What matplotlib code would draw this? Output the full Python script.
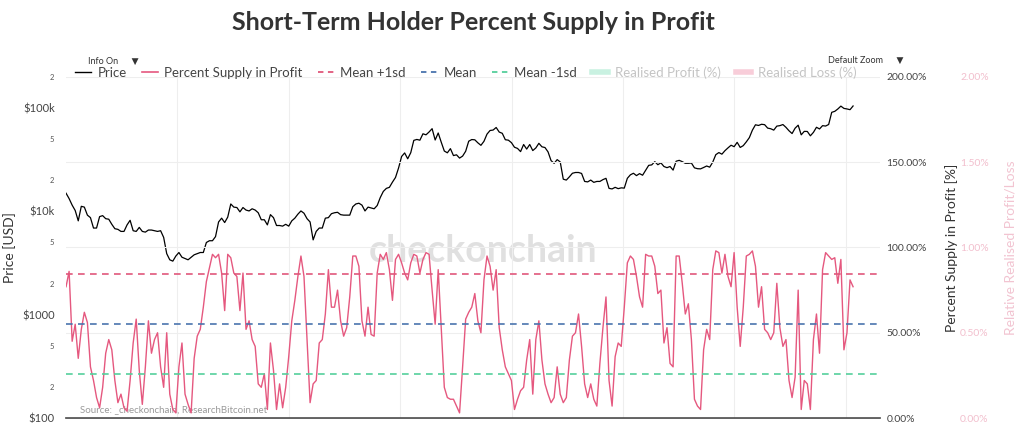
import matplotlib
matplotlib.use("Agg")
import matplotlib.pyplot as plt
import pandas as pd
from matplotlib.lines import Line2D
from matplotlib.ticker import FixedLocator, FixedFormatter

plt.rcParams["font.family"] = ["Lato", "DejaVu Sans"]

# 10-day samples from 2018-01-01
sth_profit = [
    77, 86, 45, 55, 35, 52, 62, 56, 30, 22,
    12, 6, 18, 38, 46, 40, 22, 9, 14, 6,
    4, 22, 44, 58, 28, 8, 30, 57, 38, 46,
    50, 30, 18, 50, 14, 5, 3, 30, 44, 14,
    8, 3, 35, 48, 52, 65, 80, 88, 96, 94,
    96, 85, 63, 96, 94, 85, 83, 63, 85, 52,
    57, 46, 42, 20, 18, 26, 5, 44, 28, 5,
    20, 6, 18, 36, 57, 69, 83, 95, 83, 46,
    9, 20, 22, 44, 46, 61, 87, 65, 65, 75,
    57, 48, 53, 71, 95, 95, 89, 57, 48, 65,
    49, 48, 85, 96, 93, 97, 87, 69, 93, 96,
    91, 85, 81, 91, 96, 95, 85, 93, 97, 96,
    75, 55, 87, 52, 18, 12, 11, 11, 7, 3,
    30, 58, 62, 65, 73, 57, 50, 81, 95, 89,
    75, 87, 53, 40, 30, 26, 22, 5, 11, 16,
    18, 34, 46, 14, 46, 57, 34, 20, 14, 9,
    12, 30, 14, 9, 12, 34, 48, 50, 61, 42,
    20, 12, 20, 11, 7, 32, 53, 71, 22, 7,
    36, 44, 42, 65, 91, 95, 93, 83, 71, 65,
    96, 95, 95, 89, 73, 75, 44, 53, 32, 30,
    95, 95, 79, 61, 67, 46, 11, 7, 5, 40,
    52, 46, 87, 98, 97, 85, 96, 83, 77, 97,
    65, 42, 65, 95, 96, 98, 89, 65, 77, 52,
    50, 46, 50, 79, 53, 42, 46, 22, 12, 24,
    75, 5, 22, 20, 5, 46, 61, 38, 87, 97,
    95, 93, 94, 79, 93, 40, 50, 81, 77,
]

price = [
    15000, 13300, 11500, 10200, 8100, 11200, 11000, 9200, 8700, 6900,
    6900, 8900, 9100, 8500, 8400, 7500, 6800, 6700, 6400, 6400,
    7400, 8200, 6500, 6400, 7000, 6400, 6300, 6600, 6600, 6500,
    6400, 6500, 5600, 3900, 3400, 3300, 3700, 4000, 3600, 3500,
    3400, 3600, 3800, 3900, 4000, 4000, 5000, 5200, 5200, 5700,
    7900, 8600, 7800, 8800, 11800, 11000, 10900, 9900, 10900, 10300,
    10100, 10600, 10300, 9700, 8300, 8300, 7400, 9300, 8700, 7300,
    7300, 7200, 7500, 7200, 8100, 8600, 9400, 10100, 9600, 8500,
    7900, 5300, 6400, 6900, 6900, 8600, 8700, 9500, 9700, 9800,
    9300, 9200, 9200, 9200, 11100, 11800, 12000, 11500, 10100, 11000,
    10800, 10600, 11400, 13600, 15600, 16700, 17100, 19200, 21300, 26300,
    34000, 36800, 32300, 37000, 48700, 49700, 48900, 56400, 55100, 58700,
    63200, 49100, 57400, 46700, 38400, 36900, 40500, 34700, 35300, 32800,
    34300, 38200, 47800, 49600, 49300, 46100, 43600, 47700, 56000, 60700,
    61300, 64900, 58600, 57000, 49400, 48900, 46300, 41800, 40700, 37900,
    44400, 40100, 44400, 38800, 41100, 45600, 42200, 41500, 37700, 31000,
    29200, 31700, 30100, 20500, 20100, 21600, 23400, 23800, 23800, 23300,
    19500, 19300, 20100, 19100, 19500, 19500, 20300, 20900, 16700, 16500,
    17100, 16600, 16900, 16800, 20900, 22600, 23400, 22200, 23200, 22400,
    25000, 27900, 28200, 30300, 28300, 29500, 27200, 26500, 27200, 25100,
    30600, 31200, 30300, 29200, 29200, 29400, 26400, 25900, 25800, 26600,
    27500, 26800, 30000, 35400, 37100, 35800, 38700, 41200, 43700, 42300,
    46600, 41600, 43300, 47100, 51800, 61200, 68900, 67900, 69700, 69100,
    64000, 63100, 61200, 66900, 67600, 69300, 65100, 60300, 56700, 63900,
    68300, 55100, 59500, 59400, 53900, 58200, 65200, 62800, 67600, 67000,
    69400, 91000, 93000, 98000, 104500, 99300, 98100, 96500, 104800,
]

dates = pd.date_range("2018-01-01", periods=len(sth_profit), freq="10D")

mean_val = 55.2
sd_val = 29.4

year_ticks = pd.to_datetime([f"{y}-01-01" for y in range(2019, 2026)])

pink = "#e5587f"
red = "#e0577b"
blue = "#4a74ae"
green = "#55cf9c"

fig = plt.figure(figsize=(10.24, 4.23), dpi=100)
ax = fig.add_axes([0.0645, 0.0118, 0.7945, 0.8062])
ax2 = ax.twinx()
ax3 = ax.twinx()

# price (log)
ax.plot(dates, price, color="black", lw=0.9, zorder=3)
ax.set_yscale("log")
ax.set_ylim(100, 200000)
ax.yaxis.set_major_locator(FixedLocator([100, 1000, 10000, 100000]))
ax.yaxis.set_major_formatter(FixedFormatter(["$100", "$1000", "$10k", "$100k"]))
ax.yaxis.set_minor_locator(FixedLocator([200, 500, 2000, 5000, 20000, 50000, 200000]))
ax.yaxis.set_minor_formatter(FixedFormatter(["2", "5", "2", "5", "2", "5", "2"]))
ax.tick_params(axis="y", which="major", length=0, pad=8, labelsize=8, labelcolor="#444")
ax.tick_params(axis="y", which="minor", length=0, pad=9, labelsize=5.5, labelcolor="#555")
ax.set_xlim(pd.Timestamp("2018-01-01"), pd.Timestamp("2025-04-21"))
ax.set_xticks(year_ticks)
ax.tick_params(axis="x", length=0, labelbottom=False)
ax.grid(axis="x", color="#eeeeee", lw=0.8)
ax.set_ylabel("Price [USD]", fontsize=10, color="#333")
ax.yaxis.set_label_coords(-0.0616, 0.5)

# percent supply in profit
ax2.plot(dates, sth_profit, color=pink, lw=1.0, zorder=2)
ax2.axhline(mean_val + sd_val, color=red, lw=1.2, dashes=(4, 3.2))
ax2.axhline(mean_val, color=blue, lw=1.2, dashes=(4, 3.2))
ax2.axhline(mean_val - sd_val, color=green, lw=1.2, dashes=(4, 3.2))
ax2.set_ylim(0, 200)
ax2.set_yticks([0, 50, 100, 150, 200])
ax2.set_yticklabels(["0.00%", "50.00%", "100.00%", "150.00%", "200.00%"])
ax2.tick_params(axis="y", length=0, pad=5, labelsize=7.5, labelcolor="#444")
ax2.grid(axis="y", color="#eeeeee", lw=0.8)
ax2.set_axisbelow(True)
ax2.set_ylabel("Percent Supply in Profit [%]", fontsize=10, color="#333")
ax2.yaxis.set_label_coords(1.080, 0.5)

# relative realised profit/loss axis
ax3.set_ylim(0, 2)
ax3.set_yticks([0, 0.5, 1.0, 1.5, 2.0])
ax3.set_yticklabels(["0.00%", "0.50%", "1.00%", "1.50%", "2.00%"])
ax3.spines["right"].set_position(("outward", 56))
ax3.tick_params(axis="y", length=0, pad=2, labelsize=7.5, labelcolor="#f2bfcd")
ax3.set_ylabel("Relative Realised Profit/Loss", fontsize=10, color="#f2c4d1")
ax3.yaxis.set_label_coords(1.154, 0.5)

for a in (ax, ax2, ax3):
    for s in a.spines.values():
        s.set_visible(False)
ax.spines["bottom"].set_visible(True)
ax.spines["bottom"].set_color("#444")
ax.spines["bottom"].set_linewidth(1.2)

# watermark + source
ax.text(0.513, 0.49, "checkonchain", transform=ax.transAxes, fontsize=27,
        fontweight="bold", color="#d9d9d9", alpha=0.8, ha="center", va="center", zorder=1)
ax.text(0.017, 0.012, "Source: _checkonchain, ResearchBitcoin.net", transform=ax.transAxes,
        fontsize=7, color="#9a9a9a", ha="left", va="bottom")

fig.text(0.462, 0.946, "Short-Term Holder Percent Supply in Profit", fontsize=18,
         fontweight="bold", color="#333", ha="center", va="center")

handles = [
    Line2D([], [], color="black", lw=1),
    Line2D([], [], color=pink, lw=1.2),
    Line2D([], [], color=red, lw=1.3, dashes=(3, 2.5)),
    Line2D([], [], color=blue, lw=1.3, dashes=(3, 2.5)),
    Line2D([], [], color=green, lw=1.3, dashes=(3, 2.5)),
    Line2D([], [], color="#c9f1e1", lw=4),
    Line2D([], [], color="#f8cdd9", lw=4),
]
labels = ["Price", "Percent Supply in Profit", "Mean +1sd", "Mean", "Mean -1sd",
          "Realised Profit (%)", "Realised Loss (%)"]
leg = fig.legend(handles, labels, loc="center left", bbox_to_anchor=(0.068, 0.828),
                 ncol=7, frameon=False, fontsize=9.5, handlelength=1.2,
                 columnspacing=1.15, handletextpad=0.5, borderaxespad=0)
for i, t in enumerate(leg.get_texts()):
    t.set_color("#444" if i < 5 else "#c4c4c4")

# overlay buttons
fig.text(0.086, 0.855, "Info On      \u25bc", fontsize=6.5, color="#333", ha="left", va="center",
         bbox=dict(boxstyle="square,pad=0.45", fc="white", ec="none"))
fig.text(0.809, 0.858, "Default Zoom      \u25bc", fontsize=6.5, color="#333", ha="left", va="center",
         bbox=dict(boxstyle="square,pad=0.3", fc="white", ec="none"))

fig.savefig("out.png", dpi=100)
